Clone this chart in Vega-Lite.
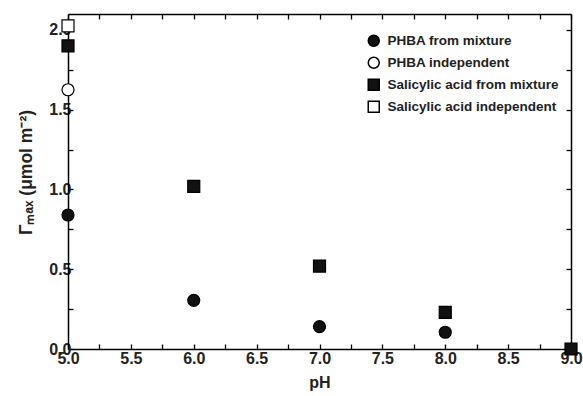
{
  "$schema": "https://vega.github.io/schema/vega-lite/v6.json",
  "width": 503,
  "height": 335,
  "autosize": {"type": "none"},
  "padding": {"left": 68, "top": 14, "right": 12, "bottom": 47},
  "background": "white",
  "config": {
    "view": {"stroke": null},
    "axis": {
      "grid": false,
      "domainColor": "black",
      "domainWidth": 1.5,
      "tickColor": "black",
      "tickWidth": 1.3,
      "tickSize": -5,
      "labelFont": "Liberation Sans",
      "labelFontWeight": "bold",
      "labelFontSize": 16,
      "labelColor": "#222222",
      "labelOverlap": false,
      "labelFlush": false,
      "labelBound": false,
      "titleFont": "Liberation Sans",
      "titleFontWeight": "bold",
      "titleFontSize": 16,
      "titleColor": "#222222"
    },
    "legend": {
      "labelFont": "Liberation Sans",
      "labelFontWeight": "bold",
      "labelFontSize": 13.5,
      "labelColor": "#222222",
      "labelLimit": 0
    }
  },
  "data": {
    "values": [
      {"pH": 5.0, "G": 0.84, "series": "PHBA from mixture"},
      {"pH": 6.0, "G": 0.305, "series": "PHBA from mixture"},
      {"pH": 7.0, "G": 0.14, "series": "PHBA from mixture"},
      {"pH": 8.0, "G": 0.105, "series": "PHBA from mixture"},
      {"pH": 5.0, "G": 1.625, "series": "PHBA independent"},
      {"pH": 5.0, "G": 1.90, "series": "Salicylic acid from mixture"},
      {"pH": 6.0, "G": 1.02, "series": "Salicylic acid from mixture"},
      {"pH": 7.0, "G": 0.52, "series": "Salicylic acid from mixture"},
      {"pH": 8.0, "G": 0.23, "series": "Salicylic acid from mixture"},
      {"pH": 9.0, "G": 0.0, "series": "Salicylic acid from mixture"},
      {"pH": 5.0, "G": 2.025, "series": "Salicylic acid independent"}
    ]
  },
  "layer": [
    {
      "mark": {"type": "point", "filled": true, "stroke": "black", "strokeWidth": 1.2, "opacity": 1, "size": 144},
      "encoding": {
        "x": {
          "field": "pH", "type": "quantitative",
          "scale": {"domain": [5, 9], "nice": false, "zero": false},
          "axis": {
            "orient": "bottom",
            "title": "pH",
            "titlePadding": 8,
            "labelPadding": 6,
            "values": [5, 5.25, 5.5, 5.75, 6, 6.25, 6.5, 6.75, 7, 7.25, 7.5, 7.75, 8, 8.25, 8.5, 8.75, 9],
            "labelExpr": "datum.value % 0.5 == 0 ? format(datum.value, '.1f') : ''"
          }
        },
        "y": {
          "field": "G", "type": "quantitative",
          "scale": {"domain": [0, 2.1], "nice": false},
          "axis": {
            "orient": "left",
            "title": "Γₘₐₓ (μmol m⁻²)",
            "titleFontSize": 17.5,
            "titlePadding": 13,
            "titleY": 158,
            "labelPadding": 2,
            "values": [0, 0.25, 0.5, 0.75, 1, 1.25, 1.5, 1.75, 2],
            "labelExpr": "datum.value % 0.5 == 0 ? format(datum.value, '.1f') : ''"
          }
        },
        "shape": {
          "field": "series", "type": "nominal",
          "scale": {
            "domain": ["PHBA from mixture", "PHBA independent", "Salicylic acid from mixture", "Salicylic acid independent"],
            "range": ["circle", "circle", "square", "square"]
          },
          "legend": {
            "title": null,
            "orient": "none",
            "legendX": 299,
            "legendY": 20,
            "padding": 0,
            "rowPadding": 4,
            "symbolSize": 121,
            "labelOffset": 7,
            "labelLimit": 0,
            "encode": {"symbols": {"update": {"stroke": {"value": "black"}, "strokeWidth": {"value": 1.2}}}}
          }
        },
        "fill": {
          "field": "series", "type": "nominal",
          "scale": {
            "domain": ["PHBA from mixture", "PHBA independent", "Salicylic acid from mixture", "Salicylic acid independent"],
            "range": ["#111111", "white", "#111111", "white"]
          },
          "legend": {
            "title": null,
            "orient": "none",
            "legendX": 299,
            "legendY": 20,
            "padding": 0,
            "rowPadding": 4,
            "symbolSize": 121,
            "labelOffset": 7,
            "labelLimit": 0,
            "encode": {"symbols": {"update": {"stroke": {"value": "black"}, "strokeWidth": {"value": 1.2}}}}
          }
        }
      }
    },
    {
      "mark": {"type": "point", "opacity": 0},
      "encoding": {
        "x": {
          "field": "pH", "type": "quantitative",
          "axis": {
            "orient": "top", "title": null, "labels": false,
            "values": [5, 5.25, 5.5, 5.75, 6, 6.25, 6.5, 6.75, 7, 7.25, 7.5, 7.75, 8, 8.25, 8.5, 8.75, 9]
          }
        },
        "y": {
          "field": "G", "type": "quantitative",
          "axis": {
            "orient": "right", "title": null, "labels": false,
            "values": [0, 0.25, 0.5, 0.75, 1, 1.25, 1.5, 1.75, 2]
          }
        }
      }
    }
  ],
  "resolve": {"axis": {"x": "independent", "y": "independent"}}
}
